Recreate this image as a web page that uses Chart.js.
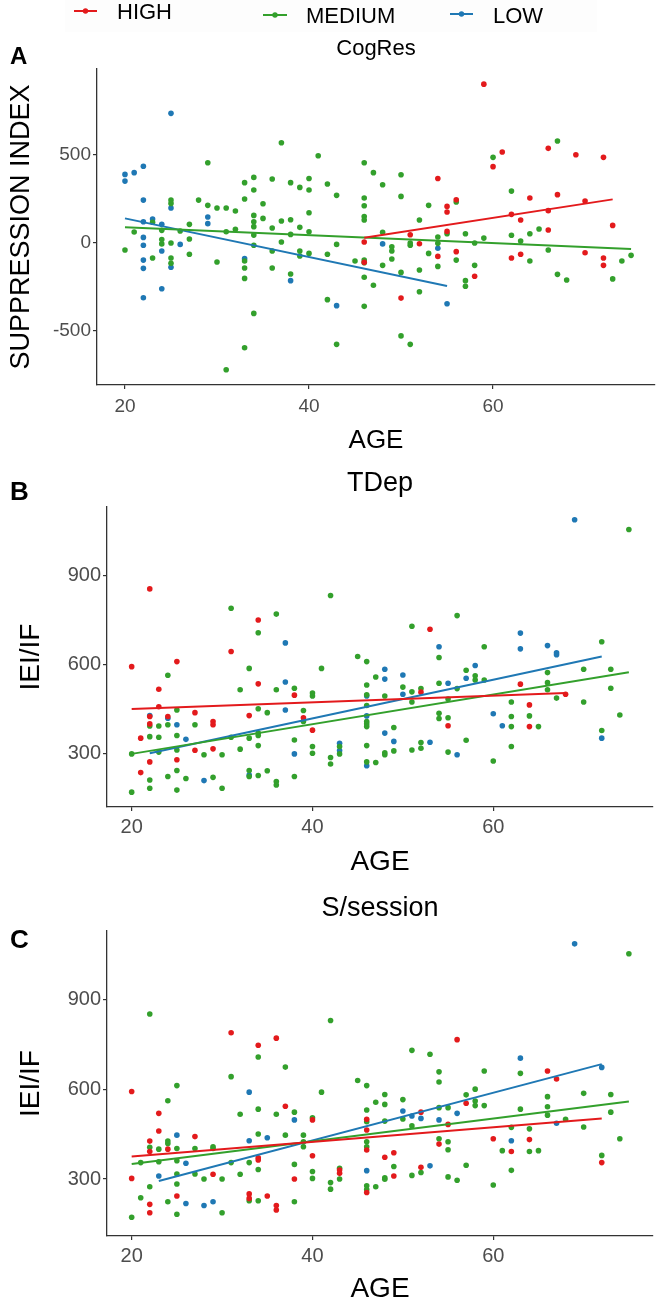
<!DOCTYPE html>
<html>
<head>
<meta charset="utf-8">
<script src="https://cdn.jsdelivr.net/npm/chart.js@4/dist/chart.umd.min.js"></script>
<style>
html,body{margin:0;padding:0;background:#fff;}
#wrap{position:relative;width:661px;height:1303px;overflow:hidden;background:#fff;}
canvas{position:absolute;left:0;}
</style>
</head>
<body>
<div id="wrap">
<canvas id="cA"></canvas>
<canvas id="cB"></canvas>
<canvas id="cC"></canvas>
</div>
<script>
// ---------- data ----------
const GROUPS = ['HIGH', 'MEDIUM', 'LOW'];
const AGE_TICKS = [20, 40, 60];
const SUPP_TICKS = [-500, 0, 500];
const IEI_TICKS = [300, 600, 900];
const PANEL_TITLES = ['CogRes', 'TDep', 'S/session'];
const PANEL_LETTERS = ['A', 'B', 'C'];

// Panel A: AGE vs SUPPRESSION INDEX, grouped by CogRes
const A_HIGH = [[46,6],[46,-110],[59,903],[61,517],[60,434],[66,538],[69,502],[72,487],[54,367],[56,246],[55,208],[55,176],[64,256],[67,275],[70,239],[62,163],[63,131],[66,184],[66,74],[73,100],[51,47],[52,-4],[55,66],[54,-76],[56,-49],[58,-189],[62,-85],[63,-64],[70,-55],[72,-85],[72,-127],[50,-313]];
const A_MEDIUM = [[20,-40],[21,63],[23,118],[23,-85],[24,72],[24,20],[24,-5],[25,244],[25,225],[25,0],[25,-85],[25,-115],[26,68],[27,106],[27,23],[27,-64],[28,244],[29,456],[29,214],[30,199],[30,-108],[31,199],[31,64],[31,-720],[32,182],[32,78],[33,343],[33,250],[33,-102],[33,-142],[33,-201],[33,-595],[34,373],[34,301],[34,157],[34,121],[34,93],[34,45],[34,-13],[34,-400],[35,223],[35,140],[36,364],[36,85],[36,-45],[36,-142],[37,570],[37,125],[37,6],[38,343],[38,132],[38,49],[38,-176],[39,316],[39,89],[39,-45],[39,-74],[40,367],[40,301],[40,172],[40,64],[40,-59],[41,496],[42,335],[42,-64],[42,-322],[43,271],[43,-8],[43,-576],[45,-102],[46,456],[46,256],[46,212],[46,150],[46,131],[46,-97],[46,-112],[46,-195],[46,-360],[47,400],[47,-240],[48,331],[50,388],[50,265],[60,487],[67,580],[62,295],[53,214],[56,233],[52,131],[48,61],[49,-21],[49,-45],[49,-91],[51,0],[51,-13],[54,34],[54,-2],[55,53],[57,53],[58,0],[59,28],[62,44],[63,11],[64,53],[65,80],[66,-40],[53,-59],[54,-133],[56,-97],[58,-127],[64,-102],[48,-127],[50,-167],[52,-153],[52,-277],[57,-214],[57,-246],[67,-178],[68,-210],[73,-204],[74,-102],[75,-70],[50,-528],[51,-576]];
const A_LOW = [[20,390],[20,352],[21,400],[22,436],[22,244],[22,121],[22,32],[22,-13],[22,-97],[22,-144],[22,-311],[23,136],[24,106],[24,-45],[24,-260],[25,737],[25,199],[25,-138],[26,-8],[29,148],[29,110],[33,-89],[38,-214],[43,-356],[48,-5],[54,-30],[55,-345]];
const A_FIT_HIGH = [[46,30],[73,248]];
const A_FIT_MEDIUM = [[20,89],[75,-34]];
const A_FIT_LOW = [[20,140],[55,-244]];

// Panel B: AGE vs IEI/IF, grouped by TDep
const B_HIGH = [[20,594],[22,856],[25,611],[31,645],[34,751],[34,536],[23,518],[23,459],[22,426],[24,426],[27,439],[29,409],[29,398],[33,429],[38,498],[39,422],[40,380],[21,353],[22,401],[22,273],[21,237],[25,280],[27,312],[29,317],[53,720],[52,508],[63,535],[64,465],[64,392],[55,395],[68,501]];
const B_MEDIUM = [[20,300],[20,171],[22,394],[22,358],[22,212],[22,184],[23,394],[23,356],[23,306],[24,565],[24,398],[24,224],[25,448],[25,362],[25,313],[25,244],[25,178],[26,217],[27,398],[28,297],[29,221],[30,297],[30,184],[31,791],[31,356],[32,516],[32,316],[33,588],[33,353],[33,244],[33,224],[34,708],[34,452],[34,370],[34,362],[34,328],[34,227],[35,439],[35,243],[36,771],[36,516],[36,207],[36,195],[38,521],[38,347],[38,224],[39,446],[39,409],[40,505],[40,495],[40,325],[40,302],[41,588],[42,834],[42,288],[42,266],[43,325],[43,300],[45,628],[46,611],[46,532],[46,499],[46,463],[46,409],[46,401],[46,392],[46,328],[46,273],[47,559],[47,271],[75,1056],[56,766],[51,730],[72,678],[59,661],[54,625],[57,582],[58,563],[58,549],[59,549],[50,525],[51,509],[52,520],[54,538],[55,485],[56,520],[48,495],[51,475],[66,574],[66,540],[66,516],[67,488],[70,585],[70,475],[73,585],[73,521],[74,431],[72,379],[62,475],[62,426],[62,392],[62,325],[64,428],[65,392],[54,437],[54,419],[55,422],[55,306],[57,346],[60,276],[49,389],[49,310],[48,304],[48,297],[51,313],[52,338],[52,319]];
const B_LOW = [[37,674],[37,542],[37,448],[22,429],[24,420],[25,398],[26,349],[28,210],[33,229],[38,300],[43,336],[43,311],[46,495],[46,428],[46,260],[69,1089],[63,707],[63,654],[66,665],[67,641],[67,634],[54,661],[48,585],[48,552],[50,566],[50,501],[58,598],[57,555],[55,538],[48,370],[49,342],[53,339],[56,297],[60,435],[61,395],[72,353]];
const B_FIT_HIGH = [[20,451],[68,505]];
const B_FIT_MEDIUM = [[20,300],[75,575]];
const B_FIT_LOW = [[22,302],[72,628]];

// Panel C: AGE vs IEI/IF, grouped by S/session
const C_HIGH = [[20,593],[20,302],[22,427],[22,392],[22,215],[22,187],[23,520],[23,461],[24,400],[25,243],[27,442],[29,316],[31,790],[33,250],[33,235],[34,748],[34,371],[34,364],[35,243],[36,772],[36,211],[36,196],[37,544],[38,300],[40,498],[40,378],[43,330],[43,319],[46,500],[46,464],[46,397],[46,255],[56,767],[66,662],[67,635],[57,554],[52,524],[55,483],[54,417],[60,435],[64,432],[62,392],[48,373],[49,388],[49,310],[52,339],[72,355]];
const C_MEDIUM = [[22,853],[20,172],[21,355],[21,237],[22,406],[22,274],[23,400],[23,358],[24,562],[24,427],[24,419],[24,224],[25,613],[25,402],[25,361],[25,317],[25,283],[25,182],[27,402],[27,317],[28,300],[29,408],[29,402],[30,300],[30,187],[31,643],[31,355],[32,517],[32,316],[33,355],[33,227],[34,709],[34,534],[34,451],[34,332],[34,227],[36,517],[37,675],[37,447],[38,524],[38,349],[38,224],[39,447],[39,425],[39,408],[40,505],[40,325],[40,302],[41,591],[42,831],[42,288],[42,266],[43,336],[43,300],[45,630],[46,613],[46,531],[46,492],[46,425],[46,408],[46,277],[46,265],[47,557],[47,274],[75,1055],[51,731],[53,718],[54,659],[54,625],[59,662],[63,654],[48,583],[48,550],[50,566],[50,501],[51,478],[54,539],[55,539],[57,582],[58,601],[58,561],[58,546],[59,546],[48,494],[66,576],[66,542],[66,514],[68,500],[70,587],[70,474],[73,583],[73,524],[74,435],[72,379],[63,534],[62,473],[64,468],[64,392],[65,395],[61,395],[62,329],[54,435],[55,425],[55,398],[51,312],[52,322],[49,342],[48,304],[48,299],[55,307],[56,296],[57,346],[60,280]];
const C_LOW = [[33,591],[38,498],[35,438],[33,428],[25,447],[26,353],[23,310],[26,218],[28,211],[29,224],[46,328],[69,1088],[63,705],[72,674],[50,528],[51,511],[52,503],[54,498],[56,520],[53,344],[62,428],[67,487]];
const C_FIT_HIGH = [[20,375],[72,503]];
const C_FIT_MEDIUM = [[20,350],[75,560]];
const C_FIT_LOW = [[23,293],[72,685]];

// ---------- styling ----------
const COLORS = { HIGH: '#E31A1C', MEDIUM: '#33A02C', LOW: '#1F78B4' };
const FONT = '"Liberation Sans", Arial, Helvetica, sans-serif';
const AXIS_COLOR = '#333333';
const TICK_COLOR = '#4d4d4d';

const panelText = {
  id: 'panelText',
  afterDraw(chart, args, o) {
    const ctx = chart.ctx, ca = chart.chartArea;
    ctx.save();
    if (o.legend) {
      ctx.fillStyle = 'rgba(0,0,0,0.008)';
      ctx.fillRect(65, 0, 532, 32);
      o.legend.forEach((it, i) => {
        const g = GROUPS[i];
        ctx.strokeStyle = COLORS[g];
        ctx.lineWidth = 2;
        ctx.beginPath();
        ctx.moveTo(it.x1, it.y); ctx.lineTo(it.x2, it.y); ctx.stroke();
        ctx.fillStyle = COLORS[g];
        ctx.beginPath();
        ctx.arc((it.x1 + it.x2) / 2, it.y, 2.7, 0, Math.PI * 2); ctx.fill();
        ctx.fillStyle = '#000';
        ctx.font = o.legendSize + 'px ' + FONT;
        ctx.textAlign = 'left';
        ctx.textBaseline = 'middle';
        ctx.fillText(g, it.tx, it.ty);
      });
    }
    ctx.fillStyle = '#000';
    ctx.textBaseline = 'middle';
    ctx.textAlign = 'center';
    ctx.font = o.titleSize + 'px ' + FONT;
    ctx.fillText(o.title, (ca.left + ca.right) / 2, o.titleY);
    ctx.textAlign = 'left';
    ctx.font = 'bold ' + o.letterSize + 'px ' + FONT;
    ctx.fillText(o.letter, o.letterX, o.letterY);
    ctx.restore();
  }
};

function toXY(arr) { return arr.map(p => ({ x: p[0], y: p[1] })); }

function makePanel(id, cfg) {
  const cv = document.getElementById(id);
  cv.width = 661; cv.height = cfg.h;
  cv.style.top = cfg.top + 'px';
  const datasets = [];
  GROUPS.forEach(g => datasets.push({
    label: g, data: toXY(cfg.points[g]), backgroundColor: COLORS[g],
    borderColor: COLORS[g], borderWidth: 0, pointRadius: 2.8, pointHoverRadius: 2.8, order: 2
  }));
  GROUPS.forEach(g => datasets.push({
    label: g + ' fit', data: toXY(cfg.fits[g]), showLine: true, borderColor: COLORS[g],
    backgroundColor: COLORS[g], borderWidth: 2, pointRadius: 0, fill: false, order: 1
  }));
  return new Chart(cv, {
    type: 'scatter',
    data: { datasets },
    plugins: [panelText],
    options: {
      responsive: false, animation: false, events: [],
      layout: { padding: { top: cfg.areaTop, right: 661 - cfg.areaRight, left: 0, bottom: 0 } },
      plugins: {
        legend: { display: false }, tooltip: { enabled: false }, title: { display: false },
        panelText: cfg.text
      },
      scales: {
        x: {
          type: 'linear', min: cfg.xMin, max: cfg.xMax,
          afterBuildTicks: s => { s.ticks = AGE_TICKS.map(v => ({ value: v })); },
          afterFit: s => { s.height = cfg.h - cfg.areaBottom; },
          ticks: { color: TICK_COLOR, font: { family: FONT, size: cfg.tickSize }, padding: cfg.xTickPad, maxRotation: 0 },
          grid: { display: true, drawOnChartArea: false, drawTicks: true, tickLength: 4, color: AXIS_COLOR, lineWidth: 1.2 },
          border: { display: true, color: AXIS_COLOR, width: 1.3 },
          title: { display: true, text: 'AGE', color: '#000', font: { family: FONT, size: cfg.xTitleSize }, padding: { top: 0, bottom: cfg.xTitlePad } }
        },
        y: {
          type: 'linear', min: cfg.yMin, max: cfg.yMax,
          afterBuildTicks: s => { s.ticks = cfg.yTicks.map(v => ({ value: v })); },
          afterFit: s => { s.width = cfg.areaLeft; },
          ticks: { color: TICK_COLOR, font: { family: FONT, size: cfg.tickSize }, padding: 2 },
          grid: { display: true, drawOnChartArea: false, drawTicks: true, tickLength: 4, color: AXIS_COLOR, lineWidth: 1.2 },
          border: { display: true, color: AXIS_COLOR, width: 1.3 },
          title: { display: true, text: cfg.yTitle, color: '#000', font: { family: FONT, size: cfg.yTitleSize }, padding: { top: cfg.yTitlePad, bottom: 0 } }
        }
      }
    }
  });
}

makePanel('cA', {
  top: 0, h: 460, areaTop: 69, areaBottom: 385, areaLeft: 97, areaRight: 655,
  xMin: 16.96, xMax: 77.6, yMin: -807, yMax: 989, yTicks: SUPP_TICKS,
  yTitle: 'SUPPRESSION INDEX', tickSize: 19, xTickPad: 6, xTitleSize: 26, xTitlePad: 4,
  yTitleSize: 27, yTitlePad: 5,
  points: { HIGH: A_HIGH, MEDIUM: A_MEDIUM, LOW: A_LOW },
  fits: { HIGH: A_FIT_HIGH, MEDIUM: A_FIT_MEDIUM, LOW: A_FIT_LOW },
  text: {
    title: PANEL_TITLES[0], titleSize: 22, titleY: 49, letter: PANEL_LETTERS[0], letterSize: 24, letterX: 10, letterY: 57,
    legendSize: 22,
    legend: [
      { x1: 74, x2: 97, y: 11, tx: 117, ty: 13 },
      { x1: 263, x2: 287, y: 15, tx: 306, ty: 17 },
      { x1: 450, x2: 473, y: 14, tx: 493, ty: 17 }
    ]
  }
});

makePanel('cB', {
  top: 460, h: 425, areaTop: 47, areaBottom: 347, areaLeft: 107, areaRight: 653,
  xMin: 17.27, xMax: 77.67, yMin: 121, yMax: 1132, yTicks: IEI_TICKS,
  yTitle: 'IEI/IF', tickSize: 20, xTickPad: 4, xTitleSize: 28, xTitlePad: 6,
  yTitleSize: 28, yTitlePad: 14,
  points: { HIGH: B_HIGH, MEDIUM: B_MEDIUM, LOW: B_LOW },
  fits: { HIGH: B_FIT_HIGH, MEDIUM: B_FIT_MEDIUM, LOW: B_FIT_LOW },
  text: { title: PANEL_TITLES[1], titleSize: 27, titleY: 24, letter: PANEL_LETTERS[1], letterSize: 26, letterX: 10, letterY: 33 }
});

makePanel('cC', {
  top: 885, h: 418, areaTop: 46, areaBottom: 351, areaLeft: 107, areaRight: 653,
  xMin: 17.27, xMax: 77.67, yMin: 109, yMax: 1131, yTicks: IEI_TICKS,
  yTitle: 'IEI/IF', tickSize: 20, xTickPad: 4, xTitleSize: 28, xTitlePad: -3,
  yTitleSize: 28, yTitlePad: 14,
  points: { HIGH: C_HIGH, MEDIUM: C_MEDIUM, LOW: C_LOW },
  fits: { HIGH: C_FIT_HIGH, MEDIUM: C_FIT_MEDIUM, LOW: C_FIT_LOW },
  text: { title: PANEL_TITLES[2], titleSize: 27, titleY: 24, letter: PANEL_LETTERS[2], letterSize: 26, letterX: 10, letterY: 56 }
});
</script>
</body>
</html>
